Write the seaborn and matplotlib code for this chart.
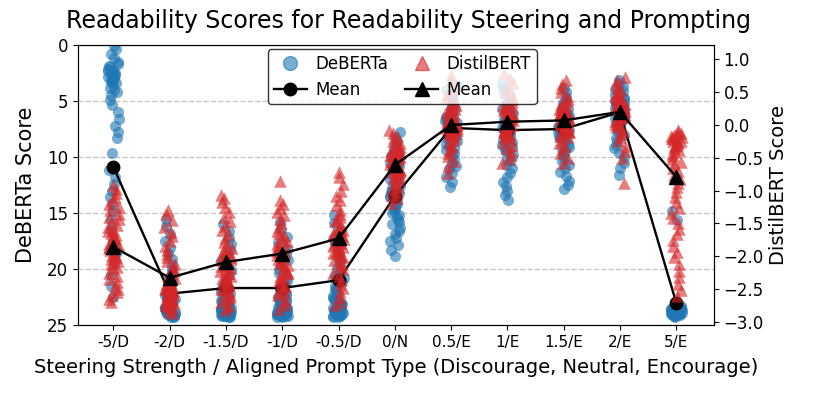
import numpy as np
import pandas as pd
import matplotlib
matplotlib.use('Agg')
import matplotlib.pyplot as plt
import seaborn as sns
from matplotlib.lines import Line2D

# Categorias do eixo x
categories = ['-5/D', '-2/D', '-1.5/D', '-1/D', '-0.5/D', '0/N',
              '0.5/E', '1/E', '1.5/E', '2/E', '5/E']

# Scores DeBERTa (eixo esquerdo, invertido)
deb_m5 = [0.1, 0.4, 0.8, 1.2, 1.5, 1.7, 1.9, 2.0, 2.1, 2.2, 2.3, 2.4, 2.5, 2.6, 2.7, 2.8,
          2.9, 3.0, 3.1, 3.2, 3.3, 3.4, 3.6, 3.8, 4.0, 4.2, 4.5, 4.9, 5.4, 6.0, 6.6, 7.2,
          7.8, 8.3, 9.6, 11.2, 11.8, 12.4, 13.0, 13.6, 14.2, 14.8, 15.6, 16.5, 17.5, 18.5,
          19.5, 20.5, 21.5, 22.5]
deb_m2 = [15.5, 16.2, 16.9, 17.5, 18.1, 18.6, 19.1, 19.6, 20.0, 20.4, 20.8, 21.1, 21.4,
          21.7, 21.9, 22.1, 22.3, 22.5, 22.7, 22.8, 22.9, 23.0, 23.1, 23.2, 23.3, 23.4,
          23.5, 23.5, 23.6, 23.6, 23.7, 23.7, 23.8, 23.8, 23.9, 23.9, 24.0, 24.0, 24.0,
          24.1, 24.1, 24.1, 24.2, 24.2, 24.2, 24.3, 24.3, 23.9, 23.7, 23.5]
deb_m15 = [16.0, 16.6, 17.2, 17.8, 18.3, 18.8, 19.3, 19.7, 20.1, 20.5, 20.9, 21.2, 21.5,
           21.8, 22.0, 22.2, 22.4, 22.6, 22.8, 22.9, 23.0, 23.1, 23.2, 23.3, 23.4, 23.5,
           23.5, 23.6, 23.6, 23.7, 23.7, 23.8, 23.8, 23.9, 23.9, 24.0, 24.0, 24.0, 24.1,
           24.1, 24.1, 24.2, 24.2, 24.2, 24.3, 24.3, 23.8, 23.6, 23.4, 23.0]
deb_m1 = [15.8, 16.5, 17.1, 17.7, 18.2, 18.7, 19.2, 19.6, 20.0, 20.4, 20.8, 21.1, 21.4,
          21.7, 21.9, 22.1, 22.3, 22.5, 22.7, 22.8, 22.9, 23.0, 23.1, 23.2, 23.3, 23.4,
          23.5, 23.5, 23.6, 23.6, 23.7, 23.7, 23.8, 23.8, 23.9, 23.9, 24.0, 24.0, 24.0,
          24.1, 24.1, 24.1, 24.2, 24.2, 24.2, 24.3, 24.3, 23.8, 23.5, 23.1]
deb_m05 = [15.2, 15.9, 16.6, 17.2, 17.7, 18.2, 18.7, 19.1, 19.5, 19.9, 20.3, 20.6, 20.9,
           21.2, 21.5, 21.8, 22.0, 22.2, 22.4, 22.6, 22.8, 22.9, 23.0, 23.1, 23.2, 23.3,
           23.4, 23.5, 23.5, 23.6, 23.6, 23.7, 23.7, 23.8, 23.8, 23.9, 23.9, 24.0, 24.0,
           24.1, 24.1, 24.2, 24.2, 24.3, 24.3, 23.7, 23.4, 22.7, 21.9, 20.8]
deb_0 = [7.8, 8.2, 8.6, 9.0, 9.3, 9.6, 9.9, 10.2, 10.5, 10.8, 11.0, 11.2, 11.4, 11.6, 11.8,
         12.0, 12.2, 12.4, 12.6, 12.8, 13.0, 13.2, 13.4, 13.6, 13.8, 14.0, 14.2, 14.4,
         14.6, 14.8, 15.0, 15.2, 15.4, 15.6, 15.8, 16.0, 16.3, 16.6, 16.9, 17.2, 17.5,
         17.9, 18.3, 18.8, 13.1, 13.5, 14.1, 12.7, 11.9, 10.6]
deb_p05 = [3.6, 4.0, 4.4, 4.7, 5.0, 5.3, 5.5, 5.7, 5.9, 6.1, 6.3, 6.4, 6.5, 6.6, 6.7, 6.8,
           6.9, 7.0, 7.1, 7.2, 7.3, 7.4, 7.5, 7.6, 7.7, 7.8, 7.9, 8.0, 8.1, 8.2, 8.3, 8.4,
           8.6, 8.8, 9.0, 9.2, 9.4, 9.6, 9.9, 10.2, 10.5, 10.8, 11.1, 11.4, 11.8, 12.2,
           12.7, 7.0, 7.4, 6.8]
deb_p1 = [3.4, 3.8, 4.2, 4.6, 4.9, 5.2, 5.5, 5.7, 5.9, 6.1, 6.3, 6.5, 6.6, 6.7, 6.8, 6.9,
          7.0, 7.1, 7.2, 7.3, 7.4, 7.5, 7.6, 7.7, 7.8, 7.9, 8.0, 8.1, 8.2, 8.3, 8.5, 8.7,
          8.9, 9.1, 9.3, 9.5, 9.8, 10.1, 10.4, 10.7, 11.0, 11.4, 11.8, 12.2, 12.6, 13.0,
          13.4, 13.8, 7.3, 7.6]
deb_p15 = [3.8, 4.2, 4.6, 4.9, 5.2, 5.5, 5.7, 5.9, 6.1, 6.3, 6.4, 6.5, 6.6, 6.7, 6.8, 6.9,
           7.0, 7.1, 7.2, 7.3, 7.4, 7.5, 7.6, 7.7, 7.8, 7.9, 8.0, 8.1, 8.2, 8.3, 8.5, 8.7,
           8.9, 9.1, 9.3, 9.5, 9.8, 10.1, 10.4, 10.7, 11.0, 11.3, 11.7, 12.1, 12.5, 12.9,
           7.3, 7.6, 6.9, 8.0]
deb_p2 = [3.1, 3.4, 3.7, 3.9, 4.1, 4.3, 4.5, 4.7, 4.9, 5.0, 5.1, 5.2, 5.3, 5.4, 5.5, 5.6,
          5.7, 5.8, 5.9, 6.0, 6.1, 6.2, 6.3, 6.4, 6.5, 6.6, 6.7, 6.8, 6.9, 7.0, 7.2, 7.4,
          7.6, 7.8, 8.0, 8.3, 8.6, 8.9, 9.2, 9.6, 10.0, 10.5, 11.0, 11.6, 5.8, 6.0, 6.2,
          5.5, 6.5, 4.8]
deb_p5 = [14.8, 15.6, 23.3, 23.4, 23.4, 23.5, 23.5, 23.5, 23.6, 23.6, 23.6, 23.6, 23.7,
          23.7, 23.7, 23.7, 23.7, 23.8, 23.8, 23.8, 23.8, 23.8, 23.9, 23.9, 23.9, 23.9,
          24.0, 24.0, 24.0, 24.0, 24.1, 24.1, 24.1, 24.2, 24.2, 24.3, 23.6, 23.7, 23.8,
          23.9, 24.0, 23.5]

# Scores DistilBERT (eixo direito)
dis_m5 = [-0.92, -0.98, -1.04, -1.1, -1.15, -1.2, -1.25, -1.3, -1.35, -1.4, -1.44, -1.48,
          -1.52, -1.56, -1.6, -1.64, -1.68, -1.72, -1.76, -1.8, -1.84, -1.88, -1.92, -1.96,
          -2.0, -2.04, -2.08, -2.12, -2.16, -2.2, -2.25, -2.3, -2.35, -2.4, -2.45, -2.5,
          -2.55, -2.6, -2.65, -2.7, -1.62, -1.74, -1.86, -1.9, -1.78, -1.98, -2.02, -1.7,
          -2.1, -1.82]
dis_m2 = [-1.29, -1.35, -1.45, -1.55, -1.63, -1.7, -1.77, -1.84, -1.9, -1.96, -2.02, -2.07,
          -2.12, -2.17, -2.22, -2.26, -2.3, -2.34, -2.38, -2.42, -2.46, -2.5, -2.53, -2.56,
          -2.59, -2.62, -2.65, -2.68, -2.71, -2.74, -2.77, -2.8, -2.83, -2.86, -2.6, -2.55,
          -2.5, -2.45, -2.4, -2.66, -2.7, -2.75, -2.35, -2.2, -2.48, -2.58, -2.72, -2.78,
          -2.52, -2.64]
dis_m15 = [-1.07, -1.12, -1.18, -1.25, -1.32, -1.4, -1.47, -1.54, -1.6, -1.66, -1.72,
           -1.78, -1.83, -1.88, -1.93, -1.98, -2.02, -2.06, -2.1, -2.14, -2.18, -2.22,
           -2.26, -2.3, -2.34, -2.38, -2.42, -2.46, -2.5, -2.54, -2.58, -2.62, -2.66, -2.7,
           -2.74, -2.78, -2.82, -2.1, -2.2, -2.0, -2.3, -1.9, -2.4, -2.15, -2.25, -2.05,
           -2.35, -2.6, -2.5, -1.95]
dis_m1 = [-0.86, -1.14, -1.2, -1.26, -1.32, -1.38, -1.44, -1.5, -1.56, -1.62, -1.67, -1.72,
          -1.77, -1.82, -1.86, -1.9, -1.94, -1.98, -2.02, -2.06, -2.1, -2.14, -2.18, -2.22,
          -2.26, -2.3, -2.34, -2.38, -2.42, -2.46, -2.5, -2.55, -2.6, -2.65, -2.7, -2.75,
          -2.8, -1.95, -2.0, -2.05, -1.85, -2.15, -2.25, -1.75, -2.35, -2.45, -1.65, -2.55,
          -2.1, -1.92]
dis_m05 = [-0.71, -0.8, -0.9, -1.0, -1.08, -1.15, -1.22, -1.29, -1.35, -1.41, -1.47, -1.52,
           -1.57, -1.62, -1.66, -1.7, -1.74, -1.78, -1.82, -1.86, -1.9, -1.94, -1.98,
           -2.02, -2.06, -2.1, -2.15, -2.2, -2.25, -2.3, -2.36, -2.42, -2.48, -2.55, -2.62,
           -2.7, -2.75, -1.6, -1.75, -1.85, -1.68, -1.8, -1.55, -1.95, -2.0, -1.45, -2.12,
           -1.72, -1.9, -1.64]
dis_0 = [-0.08, -0.12, -0.16, -0.2, -0.24, -0.27, -0.3, -0.33, -0.36, -0.39, -0.42, -0.45,
         -0.47, -0.49, -0.51, -0.53, -0.55, -0.57, -0.59, -0.61, -0.63, -0.65, -0.67,
         -0.69, -0.71, -0.73, -0.75, -0.78, -0.81, -0.84, -0.87, -0.9, -0.94, -0.98,
         -1.02, -1.07, -1.12, -1.19, -0.5, -0.6, -0.7, -0.55, -0.65, -0.4, -0.8, -0.58,
         -0.62, -0.46, -0.72, -0.35]
dis_p05 = [0.76, 0.68, 0.6, 0.53, 0.47, 0.42, 0.37, 0.32, 0.28, 0.24, 0.2, 0.17, 0.14,
           0.11, 0.08, 0.05, 0.02, 0.0, -0.02, -0.04, -0.06, -0.08, -0.1, -0.12, -0.14,
           -0.17, -0.2, -0.23, -0.26, -0.3, -0.34, -0.38, -0.43, -0.48, -0.55, -0.63,
           -0.73, 0.1, 0.0, -0.05, 0.05, 0.15, -0.1, 0.25, -0.15, 0.3, 0.02, -0.03, 0.07,
           -0.07]
dis_p1 = [0.8, 0.72, 0.64, 0.57, 0.51, 0.45, 0.4, 0.35, 0.31, 0.27, 0.23, 0.2, 0.17, 0.14,
          0.11, 0.08, 0.06, 0.04, 0.02, 0.0, -0.02, -0.04, -0.06, -0.08, -0.1, -0.13,
          -0.16, -0.19, -0.22, -0.26, -0.3, -0.35, -0.4, -0.46, -0.52, -0.58, 0.1, 0.05,
          0.0, 0.15, -0.05, 0.2, 0.12, 0.25, -0.1, 0.03, 0.07, 0.3, -0.15, 0.09]
dis_p15 = [0.68, 0.62, 0.56, 0.5, 0.45, 0.4, 0.36, 0.32, 0.28, 0.25, 0.22, 0.19, 0.16,
           0.13, 0.1, 0.08, 0.06, 0.04, 0.02, 0.0, -0.02, -0.04, -0.06, -0.08, -0.1, -0.13,
           -0.16, -0.19, -0.23, -0.27, -0.32, -0.37, -0.43, -0.5, -0.58, 0.1, 0.05, 0.15,
           0.0, 0.2, 0.08, -0.05, 0.12, 0.25, 0.03, 0.3, -0.1, 0.06, 0.18, 0.11]
dis_p2 = [0.73, 0.68, 0.63, 0.58, 0.54, 0.5, 0.46, 0.43, 0.4, 0.37, 0.34, 0.31, 0.28, 0.26,
          0.24, 0.22, 0.2, 0.18, 0.16, 0.14, 0.12, 0.1, 0.08, 0.06, 0.04, 0.02, 0.0, -0.03,
          -0.06, -0.1, -0.14, -0.19, -0.25, -0.32, -0.4, -0.5, -0.88, 0.2, 0.25, 0.3, 0.15,
          0.35, 0.22, 0.18, 0.28, 0.45, 0.1, 0.32, 0.38, 0.26]
dis_p5 = [-0.08, -0.1, -0.12, -0.14, -0.16, -0.18, -0.2, -0.22, -0.24, -0.26, -0.28, -0.3,
          -0.32, -0.35, -0.38, -0.41, -0.44, -0.48, -0.52, -0.56, -0.6, -0.65, -0.7, -0.76,
          -0.82, -0.88, -0.95, -1.02, -1.1, -1.18, -1.26, -1.34, -1.42, -1.5, -1.58, -1.66,
          -1.75, -1.84, -1.93, -2.02, -2.12, -2.22, -2.32, -2.42, -2.52, -2.61, -0.15,
          -0.25, -0.2, -0.3]

# Médias por categoria
deb_mean = [10.9, 22.2, 21.7, 21.7, 21.0, 13.5, 7.4, 7.6, 7.5, 6.0, 23.0]
dis_mean = [-1.86, -2.33, -2.09, -1.96, -1.73, -0.61, 0.0, 0.05, 0.07, 0.2, -0.79]

deb_lists = [deb_m5, deb_m2, deb_m15, deb_m1, deb_m05, deb_0,
             deb_p05, deb_p1, deb_p15, deb_p2, deb_p5]
dis_lists = [dis_m5, dis_m2, dis_m15, dis_m1, dis_m05, dis_0,
             dis_p05, dis_p1, dis_p15, dis_p2, dis_p5]

df_deb = pd.DataFrame([(c, v) for c, vals in zip(categories, deb_lists) for v in vals],
                      columns=['cat', 'score'])
df_dis = pd.DataFrame([(c, v) for c, vals in zip(categories, dis_lists) for v in vals],
                      columns=['cat', 'score'])

blue = '#1f77b4'
red = '#d62728'
pos = np.arange(len(categories))

fig, ax = plt.subplots(figsize=(8.14, 3.97), dpi=100)
fig.subplots_adjust(left=0.0958, right=0.877, top=0.8866, bottom=0.1814)

np.random.seed(3)
sns.stripplot(data=df_deb, x='cat', y='score', order=categories, color=blue,
              alpha=0.6, size=8, jitter=0.1, marker='o', ax=ax, zorder=2)
ax.plot(pos, deb_mean, color='black', marker='o', lw=1.7, ms=9, zorder=3)
ax.set_ylim(25, 0)
ax.yaxis.grid(True, linestyle='--', color='0.78', lw=1)
ax.set_axisbelow(True)

ax2 = ax.twinx()
sns.stripplot(data=df_dis, x='cat', y='score', order=categories, color=red,
              alpha=0.6, size=9, jitter=0.1, marker='^', ax=ax2, zorder=2)
ax2.plot(pos, dis_mean, color='black', marker='^', lw=1.7, ms=9.5, zorder=3)
ax2.set_ylim(-3.05, 1.22)
ax2.set_yticks(np.arange(-3.0, 1.01, 0.5))

ax.set_xlim(-0.63, 10.67)
ax.set_xticks(pos)
ax.set_xticklabels(categories, fontsize=11)
ax.tick_params(axis='y', labelsize=12)
ax2.tick_params(axis='y', labelsize=12)
ax.set_xlabel('Steering Strength / Aligned Prompt Type (Discourage, Neutral, Encourage)',
              fontsize=14, labelpad=6)
ax.set_ylabel('DeBERTa Score', fontsize=15, labelpad=8)
ax2.set_ylabel('DistilBERT Score', fontsize=14)
ax2.set_xlabel('')
ax.set_title('Readability Scores for Readability Steering and Prompting', fontsize=17,
             pad=12, x=0.519)

handles = [
    Line2D([], [], marker='o', ls='none', color=blue, alpha=0.6, ms=10),
    Line2D([], [], marker='o', color='black', lw=1.7, ms=9),
    Line2D([], [], marker='^', ls='none', color=red, alpha=0.6, ms=10),
    Line2D([], [], marker='^', color='black', lw=1.7, ms=9.5),
]
labels = ['DeBERTa', 'Mean', 'DistilBERT', 'Mean']
leg = ax2.legend(handles, labels, ncol=2, loc='upper center', bbox_to_anchor=(0.51, 1.0),
                 fontsize=12, framealpha=0.8, edgecolor='black', borderaxespad=0.25,
                 handlelength=2.0, handletextpad=0.5, columnspacing=1.0,
                 labelspacing=0.45, borderpad=0.35)

plt.savefig('out.png', dpi=100)
